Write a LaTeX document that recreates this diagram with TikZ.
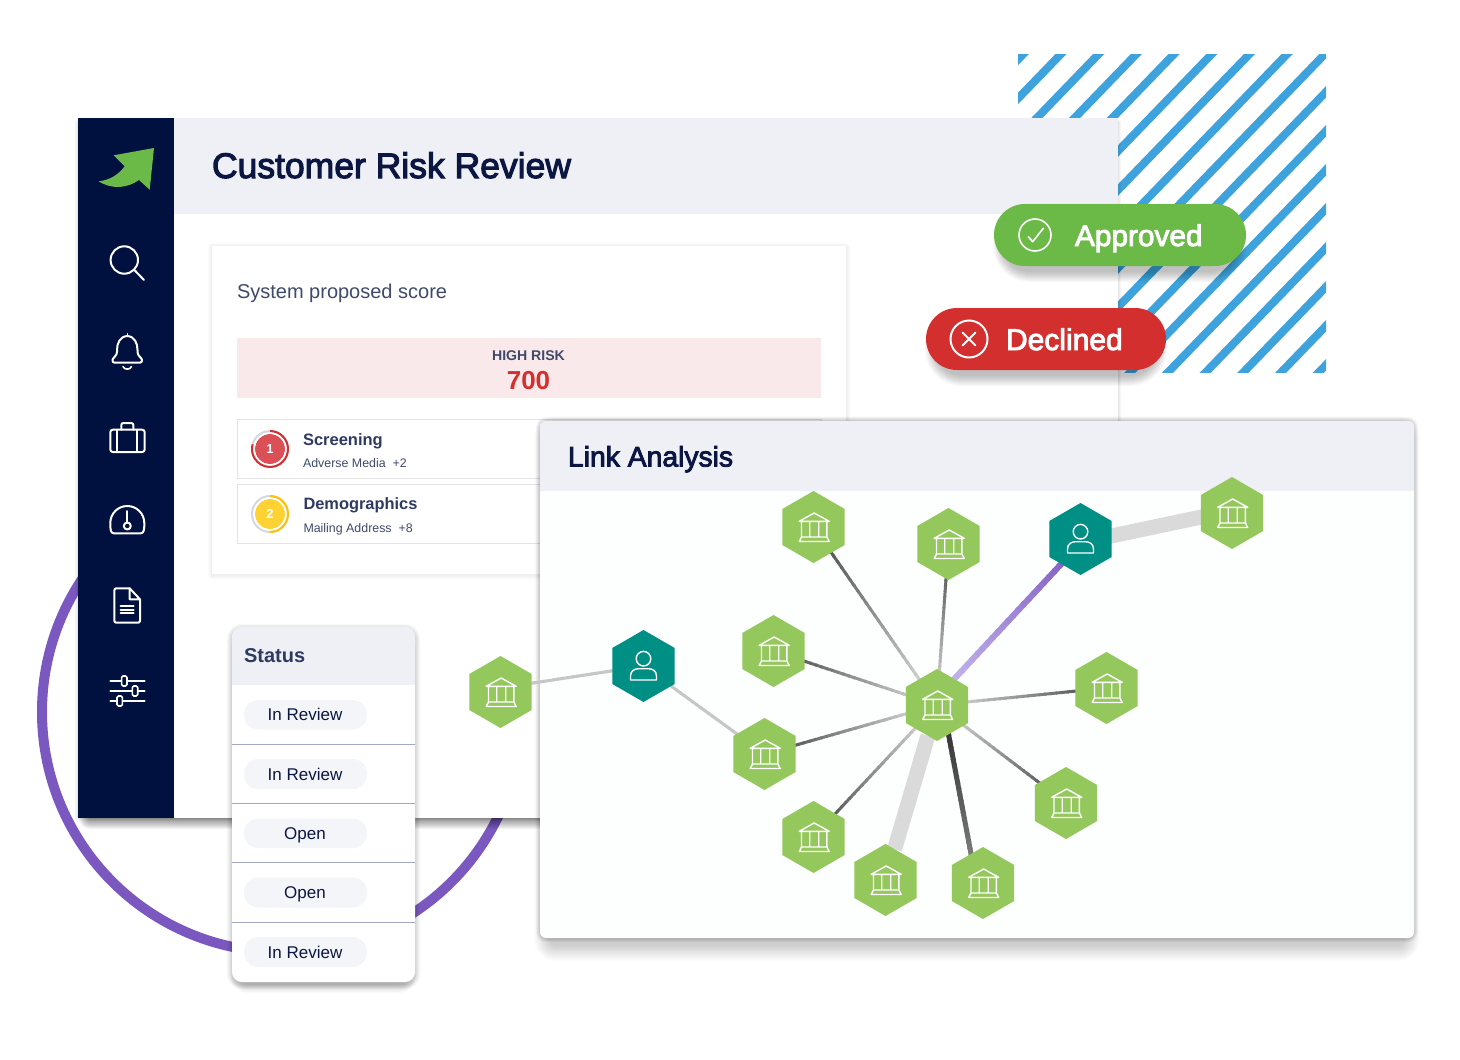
\documentclass[tikz,border=0pt]{standalone}
\usepackage{fontspec}
\setmainfont{Liberation Sans}
\newfontfamily\medf[FakeBold=3]{Liberation Sans}
\usetikzlibrary{shapes.geometric,calc}
\definecolor{navy}{HTML}{00103F}
\definecolor{headbg}{HTML}{EFF0F5}
\definecolor{ink}{HTML}{0B1642}
\definecolor{slate}{HTML}{2F3A63}
\definecolor{slatel}{HTML}{3F4A6B}
\definecolor{riskbg}{HTML}{FAE9EA}
\definecolor{riskred}{HTML}{D32F2F}
\definecolor{riskfill}{HTML}{DB4F57}
\definecolor{amber}{HTML}{FFC107}
\definecolor{amberfill}{HTML}{FFD233}
\definecolor{ringgray}{HTML}{D5D8E0}
\definecolor{okgreen}{HTML}{6BB947}
\definecolor{stripe}{HTML}{3EA3DC}
\definecolor{ringp}{HTML}{7B58C0}
\definecolor{hexg}{HTML}{94C85C}
\definecolor{hext}{HTML}{008F84}
\definecolor{pillbg}{HTML}{F4F5F8}
\definecolor{divider}{HTML}{A3A8C0}
\definecolor{rowline}{HTML}{E3E3E6}
\definecolor{wide}{HTML}{DADADA}
\definecolor{lnkdark}{HTML}{444444}
\definecolor{lnklight}{HTML}{E2E2E2}
\definecolor{lnkmid}{HTML}{C6C6C6}
\definecolor{plight}{HTML}{CDC2F2}
\definecolor{pdark}{HTML}{7A55C0}
\definecolor{linkbg}{HTML}{FDFEFE}
\pgfdeclarelayer{under}
\pgfdeclarelayer{links}
\pgfsetlayers{under,links,main}
\newcommand\softshadow[8]{%
  \foreach \i in {1,...,#7}{%
    \pgfmathsetmacro\rr{#5+\i}%
    \fill[black,opacity=#8,rounded corners=\rr pt] ({#1-\i},{#2-\i+#6}) rectangle ({#3+\i},{#4+\i+#6});
  }}
\newcommand\gradlink[5]{%
  \foreach \k in {0,...,29}{%
    \pgfmathsetmacro\ta{\k/30}%
    \pgfmathsetmacro\tb{(\k+1.3)/30}%
    \pgfmathsetmacro\pc{100*\k/29}%
    \draw[line width=#3pt,color={#5!\pc!#4}] ($(#1)!\ta!(#2)$) -- ($(#1)!\tb!(#2)$);
  }}
\tikzset{
  txt/.style={anchor=base west,inner sep=0pt,outer sep=0pt},
  ctxt/.style={anchor=base,inner sep=0pt,outer sep=0pt},
  hexbank/.style={regular polygon,regular polygon sides=6,regular polygon rotate=30,minimum size=72pt,inner sep=0pt,outer sep=0pt,fill=hexg},
  hexuser/.style={hexbank,fill=hext},
  sideicon/.style={draw=white,line width=2pt,line cap=round,line join=round},
  statuspill/.style={rounded corners=14.5pt,fill=pillbg},
  bank/.pic={
    \draw[white,line width=1.4pt,line join=round]
      (-14.3,-5.7) -- (0.7,-14) -- (15.7,-5.7) -- cycle
      (-12,-5.7) -- (-12,10) (13.4,-5.7) -- (13.4,10)
      (-3.8,-5.7) -- (-3.8,10) (5.2,-5.7) -- (5.2,10)
      (-12,10) -- (13.4,10) -- (15.7,14.5) -- (-14.3,14.5) -- cycle;
  },
  person/.pic={
    \draw[white,line width=1.4pt] (0,-7.3) circle (7.3pt);
    \draw[white,line width=1.4pt,line join=round] (-13,14) -- (13,14) -- (13,10)
      .. controls (13,5) and (9,2.7) .. (5,2.7) -- (-5,2.7)
      .. controls (-9,2.7) and (-13,5) .. (-13,10) -- cycle;
  }
}
\begin{document}
\begin{tikzpicture}[x=1pt,y=-1pt]
\useasboundingbox (0,0) rectangle (1460,1060);
\begin{pgfonlayer}{under}
\fill[white] (0,0) rectangle (1460,1060);
% ring
\draw[ringp,line width=10pt] (282,712) circle (240pt);
% stripes
\begin{scope}
\clip (1018,54) rectangle (1326,372);
\foreach \k in {0,...,16}{
  \draw[stripe,line width=8pt] ({1023.3+37.7*\k+37.7},{54-39}) -- ({1023.3+37.7*\k-307.4-37.7},{372+39});
}
\end{scope}
% main panel
\softshadow{78}{122}{1118}{818}{0}{0}{3}{.03}
\softshadow{90}{805}{1110}{818}{0}{0}{11}{.045}
\fill[white] (78,118) rectangle (1118,818);
\fill[headbg] (174,118) rectangle (1118,214);
\fill[navy] (78,118) rectangle (174,818);
\node[txt,text=ink,font=\medf\fontsize{35.5}{40}\selectfont] (title) at (212,178) {Customer Risk Review};
% logo
\fill[okgreen] (154,148) -- (113.7,155.3) -- (124.7,166.3) .. controls (118,175) and (110,180) .. (98.7,181.3)
  .. controls (112,190) and (128,188) .. (139,180) -- (149.7,189.7) -- cycle;
% sidebar icons
\draw[sideicon] (124.3,260) circle (13.7pt);
\draw[sideicon] (134.7,270.3) -- (144,280);
\draw[sideicon] (127.3,336) .. controls (120,336.5) and (117,343) .. (117,350) -- (117,352)
  .. controls (117,356) and (112.5,358) .. (112.5,360) .. controls (112.5,361.5) and (113,362.5) .. (114,362.5)
  -- (140.5,362.5) .. controls (141.5,362.5) and (142,361.5) .. (142,360)
  .. controls (142,358) and (137.5,356) .. (137.5,352) -- (137.5,350) .. controls (137.5,343) and (134.5,336.5) .. (127.3,336);
\draw[sideicon,line width=1.6pt] (127.3,333.8) -- (127.3,336);
\draw[sideicon,line width=1.6pt] (123,366.5) .. controls (124,370) and (130.5,370) .. (131.5,366.5);
\draw[sideicon,rounded corners=2.5pt] (110.3,429.7) rectangle (144.7,452);
\draw[sideicon,rounded corners=2pt] (121.3,429.7) -- (121.3,423) -- (133.3,423) -- (133.3,429.7);
\draw[sideicon] (117.3,429.7) -- (117.3,452) (137.3,429.7) -- (137.3,452);
\draw[sideicon] (110.3,523) .. controls (110.3,513.6) and (117.9,506) .. (127.3,506)
  .. controls (136.7,506) and (144.3,513.6) .. (144.3,523)
  .. controls (144.3,528) and (144.3,533.3) .. (141,533.3) -- (113.6,533.3)
  .. controls (110.3,533.3) and (110.3,528) .. (110.3,523) -- cycle;
\draw[sideicon] (127.3,511) -- (127.3,522.5);
\draw[sideicon] (127.3,526) circle (3.5pt);
\draw[sideicon,rounded corners=2pt] (129.7,588.3) -- (114.3,588.3) -- (114.3,622.7) -- (140,622.7) -- (140,599.3);
\draw[sideicon] (129.7,588.3) -- (140,599.3) (129.7,588.3) -- (129.7,599.3) -- (140,599.3);
\draw[sideicon] (120.7,605.7) -- (133.7,605.7) (120.7,609.5) -- (133.7,609.5) (120.7,613.3) -- (133.7,613.3);
\draw[sideicon] (110.3,681) -- (144.7,681) (110.3,691) -- (144.7,691) (110.3,701) -- (144.7,701);
\draw[sideicon,line width=1.6pt,fill=navy,rounded corners=1.5pt] (121.6,676) rectangle (127,686);
\draw[sideicon,line width=1.6pt,fill=navy,rounded corners=1.5pt] (132.3,686) rectangle (137.7,696);
\draw[sideicon,line width=1.6pt,fill=navy,rounded corners=1.5pt] (117,696) rectangle (122.4,706);
% score card
\softshadow{212}{246}{846}{574}{0}{1}{4}{.014}
\fill[white] (212,246) rectangle (846,574);
\node[txt,text=slatel,font=\fontsize{20}{24}\selectfont] (proposed) at (237,298) {System proposed score};
\fill[riskbg] (237,338) rectangle (821,398);
\node[ctxt,text=slatel,font=\bfseries\fontsize{14.1}{17}\selectfont] (highrisk) at (528.5,360.5) {HIGH RISK};
\node[ctxt,text=riskred,font=\bfseries\fontsize{26}{30}\selectfont] (score) at (528.5,389) {700};
\draw[rowline,line width=1pt] (237.5,419.5) rectangle (821,478);
\draw[rowline,line width=1pt] (237.5,484.5) rectangle (821,543.5);
\draw[ringgray,line width=2pt] (270,449) circle (18pt);
\draw[riskred,line width=2pt] (270,431) arc[start angle=90,end angle=-195,radius=18pt];
\fill[riskfill] (270,449) circle (15pt);
\draw[white,line width=.8pt] (270,449) circle (15.5pt);
\node[anchor=center,inner sep=0pt,text=white,font=\bfseries\fontsize{13}{15}\selectfont] (one) at (270,449) {1};
\draw[ringgray,line width=2pt] (270,514) circle (18pt);
\draw[amber,line width=2pt] (270,496) arc[start angle=90,end angle=-90,radius=18pt];
\fill[amberfill] (270,514) circle (15pt);
\draw[white,line width=.8pt] (270,514) circle (15.5pt);
\node[anchor=center,inner sep=0pt,text=white,font=\bfseries\fontsize{13}{15}\selectfont] (two) at (270,514) {2};
\node[txt,text=slate,font=\bfseries\fontsize{16.5}{20}\selectfont] (screen) at (303,445) {Screening};
\node[txt,text=slatel,font=\fontsize{12.4}{15}\selectfont] (adverse) at (303,467) {Adverse Media\ \ +2};
\node[txt,text=slate,font=\bfseries\fontsize{16.4}{20}\selectfont] (demo) at (303.5,509.5) {Demographics};
\node[txt,text=slatel,font=\fontsize{12.4}{15}\selectfont] (mailing) at (303.5,532) {Mailing Address\ \ +8};
% status panel
\softshadow{232}{627}{415}{982}{10}{2}{5}{.03}
\softshadow{240}{640}{407}{984}{8}{0}{9}{.02}
\fill[white,rounded corners=10pt] (232,627) rectangle (415,982);
\begin{scope}
\clip[rounded corners=10pt] (232,627) rectangle (415,982);
\fill[headbg] (232,627) rectangle (415,684.5);
\end{scope}
\node[txt,text=slate,font=\bfseries\fontsize{20}{24}\selectfont] (status) at (244,662) {Status};
\draw[divider,line width=1pt] (232,744.5) -- (415,744.5) (232,803.5) -- (415,803.5) (232,862.5) -- (415,862.5) (232,922) -- (415,922);
\fill[statuspill] (244,700) rectangle (367,729.5);
\fill[statuspill] (244,759) rectangle (367,789);
\fill[statuspill] (244,818.5) rectangle (367,848);
\fill[statuspill] (244,877.5) rectangle (367,907.5);
\fill[statuspill] (244,937) rectangle (367,967);
\node[ctxt,text=ink,font=\fontsize{17}{21}\selectfont] (s1) at (305,720.5) {In Review};
\node[ctxt,text=ink,font=\fontsize{17}{21}\selectfont] (s2) at (305,780) {In Review};
\node[ctxt,text=ink,font=\fontsize{17}{21}\selectfont] (s3) at (305,839.5) {Open};
\node[ctxt,text=ink,font=\fontsize{17}{21}\selectfont] (s4) at (305,898.5) {Open};
\node[ctxt,text=ink,font=\fontsize{17}{21}\selectfont] (s5) at (305,958) {In Review};
% pills
\softshadow{1004}{214}{1236}{271}{26}{0}{11}{.022}
\fill[okgreen,rounded corners=31pt] (994,204) rectangle (1246,266);
\draw[white,line width=1.6pt] (1035,235) circle (16pt);
\draw[white,line width=1.6pt,line cap=round,line join=round] (1028.3,236.7) -- (1032.7,241.7) -- (1043.3,228.3);
\node[txt,text=white,font=\medf\fontsize{29.8}{36}\selectfont] (approved) at (1075,246) {Approved};
\softshadow{936}{318}{1156}{375}{26}{0}{11}{.022}
\fill[riskred,rounded corners=31pt] (926,308) rectangle (1166,370);
\draw[white,line width=2pt] (969,339) circle (18.5pt);
\draw[white,line width=2pt,line cap=round] (962.5,332.5) -- (975.5,345.5) (975.5,332.5) -- (962.5,345.5);
\node[txt,text=white,font=\medf\fontsize{30}{36}\selectfont] (declined) at (1006,350) {Declined};
% link panel
\softshadow{540}{421}{1414}{938}{6}{0}{4}{.035}
\softshadow{550}{432}{1404}{945}{6}{0}{16}{.012}
\fill[linkbg,rounded corners=6pt] (540,421) rectangle (1414,938);
\begin{scope}
\clip[rounded corners=6pt] (540,421) rectangle (1414,938);
\fill[headbg] (540,421) rectangle (1414,491);
\end{scope}
\node[txt,text=ink,font=\medf\fontsize{28.3}{34}\selectfont] (linktitle) at (568,466.5) {Link Analysis};
\end{pgfonlayer}
% graph nodes
\node[hexbank] (n1) at (500.5,692) {};
\node[hexuser] (u1) at (643.5,666) {};
\node[hexbank] (n2) at (813.5,527) {};
\node[hexbank] (n3) at (948.5,544) {};
\node[hexuser] (u2) at (1080.5,539) {};
\node[hexbank] (n4) at (1232,513) {};
\node[hexbank] (n5) at (773.5,651) {};
\node[hexbank] (hub) at (937,705) {};
\node[hexbank] (n6) at (1106.5,688) {};
\node[hexbank] (n7) at (764.5,754) {};
\node[hexbank] (n8) at (1066,803) {};
\node[hexbank] (n9) at (813.5,837) {};
\node[hexbank] (n10) at (885.5,880) {};
\node[hexbank] (n11) at (983,883) {};
\foreach \n in {n1,n2,n3,n4,n5,hub,n6,n7,n8,n9,n10,n11}{\pic at (\n) {bank};}
\pic at (u1) {person};
\pic at (u2) {person};
\begin{pgfonlayer}{links}
\coordinate (u2off) at ($(u2)+(0,3.5)$);
\coordinate (n4off) at ($(n4)+(0,-2.5)$);
\coordinate (hubr) at ($(hub)+(6,0)$);
\coordinate (n11l) at ($(n11)+(-6.5,0)$);
\coordinate (hubp) at ($(hub)+(-7,0)$);
\coordinate (u2p) at ($(u2)+(4,0)$);
\coordinate (n1o) at ($(n1)+(0,-4)$);
\draw[wide,line width=15pt] (u2off) -- (n4off);
\draw[wide,line width=15pt] (hub) -- (n10);
\gradlink{n1o}{u1}{3}{lnkmid}{lnkmid}
\gradlink{u1}{n7}{3}{lnkmid}{lnkmid}
\gradlink{hubp}{u2p}{6}{plight}{pdark}
\gradlink{hub}{n2}{3}{lnklight}{lnkdark}
\gradlink{hub}{n3}{3}{lnklight}{lnkdark}
\gradlink{hub}{n5}{3}{lnklight}{lnkdark}
\gradlink{hub}{n6}{3}{lnklight}{lnkdark}
\gradlink{hub}{n7}{3}{lnklight}{lnkdark}
\gradlink{hub}{n8}{3}{lnklight}{lnkdark}
\gradlink{hub}{n9}{3}{lnklight}{lnkdark}
\gradlink{hubr}{n11l}{5}{lnkdark!60!black}{lnklight}
\end{pgfonlayer}
\end{tikzpicture}
\end{document}
